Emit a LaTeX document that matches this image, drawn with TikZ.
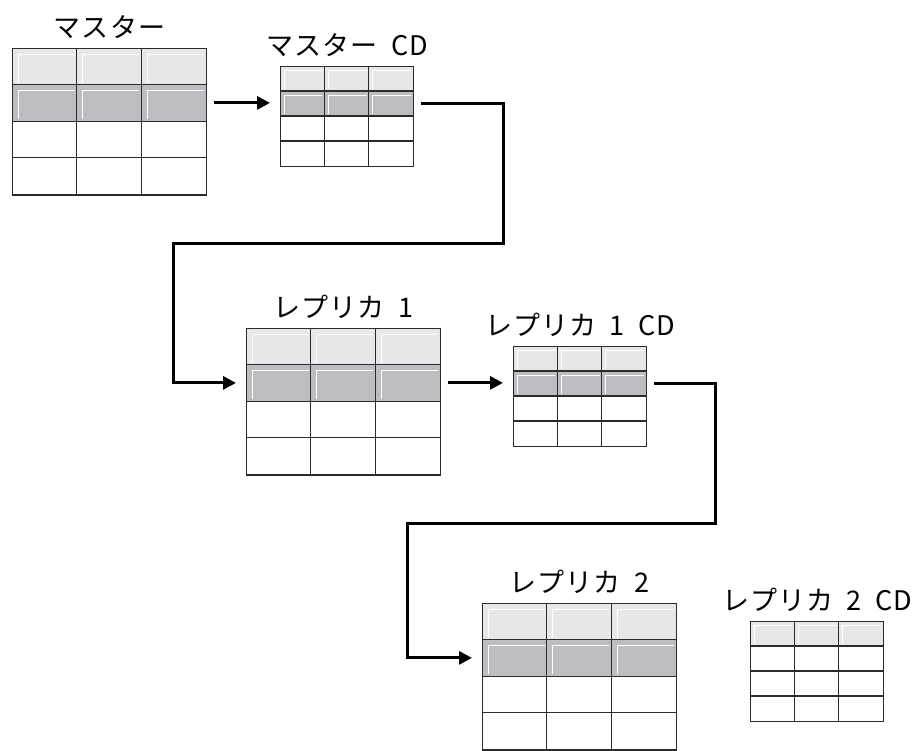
\documentclass[tikz,border=0pt]{standalone}
\usepackage{fontspec}
\setmainfont{Noto Sans CJK JP}
\usepackage{tikz}
\definecolor{gray229}{HTML}{E6E7E8}
\definecolor{gray189}{HTML}{BCBDC0}
\definecolor{gridgray}{HTML}{2B2B2B}
\usetikzlibrary{arrows.meta}
\tikzstyle{headfill}=[fill=gray229]
\tikzstyle{rowfill}=[fill=gray189]
\tikzstyle{bevel}=[draw=white, line width=1pt]
\tikzstyle{gridline}=[draw=gridgray, line width=1.1pt]
\tikzstyle{tablebox}=[rectangle, draw=gridgray, line width=1.3pt, inner sep=0pt]
\tikzstyle{title}=[font=\fontsize{27}{30}\selectfont\addfontfeature{LetterSpace=4}, inner sep=0pt, label distance=9pt]
\tikzstyle{link}=[draw=black, line width=3pt, -{Triangle[length=13pt,width=13pt]}, shorten <=8pt, shorten >=10pt]

% #1 name, #2 title, #3 left, #4 top, #5 cell width, #6 cell height, #7 shaded rows
\newcommand{\dbtable}[7]{%
	\begin{scope}[shift={(#3,#4)}]
		\fill[headfill] (0,0) rectangle ({3*#5},#6);
		\ifnum#7>1\relax \fill[rowfill] (0,#6) rectangle ({3*#5},{2*#6}); \fi
		\foreach \ri in {1,...,#7}
			\foreach \ci in {0,1,2}
				\draw[bevel] ({\ci*#5+#6/6},{\ri*#6-2}) -- ({\ci*#5+#6/6},{(\ri-1)*#6+#6/6}) -- ({(\ci+1)*#5-2},{(\ri-1)*#6+#6/6});
		\foreach \ri in {1,2,3}
			\draw[gridline] (0,{\ri*#6}) -- ({3*#5},{\ri*#6});
		\foreach \ci in {1,2}
			\draw[gridline] ({\ci*#5},0) -- ({\ci*#5},{4*#6});
		\node[tablebox, minimum width=3*#5, minimum height=4*#6, anchor=north west, label={[title]above:#2}] (#1) at (0,0) {};
		\coordinate (#1-in) at (0,{1.5*#6});
		\coordinate (#1-out) at ({3*#5},{1.5*#6});
	\end{scope}}

\begin{document}
\begin{tikzpicture}[x=1pt, y=-1pt]
	\useasboundingbox (0,0) rectangle (915,750);
	\dbtable{master}{マスター}{12}{48}{64.6}{36.6}{2}
	\dbtable{mastercd}{マスター\enspace CD}{280}{66}{44.3}{25}{2}
	\dbtable{replica1}{レプリカ\enspace 1}{246}{328}{64.6}{36.6}{2}
	\dbtable{replica1cd}{レプリカ\enspace 1\enspace CD}{513}{346}{44.3}{25}{2}
	\dbtable{replica2}{レプリカ\enspace 2}{482}{603}{64.6}{36.6}{2}
	\dbtable{replica2cd}{レプリカ\enspace 2\enspace CD}{750}{621}{44.3}{25}{1}
	\coordinate (turn1a) at (503,243);
	\coordinate (turn1b) at (173,243);
	\coordinate (turn2a) at (715,523);
	\coordinate (turn2b) at (407,523);
	\draw[link] (master-out) -- (mastercd-in |- master-out);
	\draw[link] (mastercd-out) -| (turn1a) -- (turn1b) |- (replica1-in);
	\draw[link] (replica1-out) -- (replica1cd-in |- replica1-out);
	\draw[link] (replica1cd-out) -| (turn2a) -- (turn2b) |- (replica2-in);
\end{tikzpicture}
\end{document}
